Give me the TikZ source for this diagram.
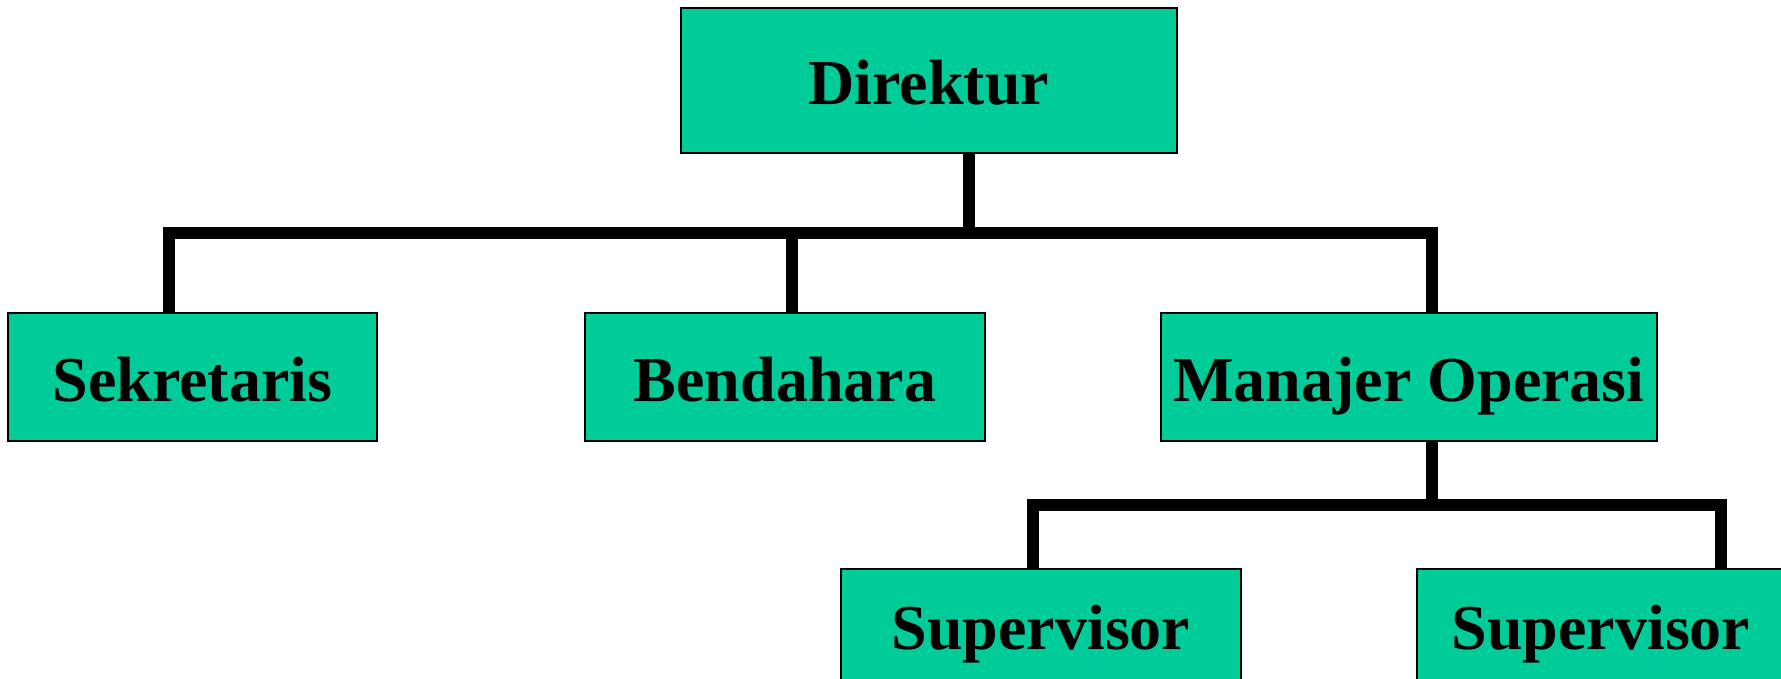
\documentclass[tikz,border=0pt]{standalone}
\usepackage{fontspec}
\setmainfont{Liberation Serif}
\definecolor{boxgreen}{RGB}{0,204,153}
\tikzset{
  orgbox/.style={draw=black, line width=1.6pt, fill=boxgreen, inner sep=0pt,
    font=\fontsize{64}{70}\selectfont\bfseries,
    text height=61pt, text depth=13pt},
  conn/.style={draw=black, line width=12pt, line join=miter, line cap=butt}
}
\begin{document}
\begin{tikzpicture}[x=1pt,y=-1pt]
  \useasboundingbox (0,0) rectangle (1781,679);
  % boxes
  \node[orgbox, minimum width=496pt, minimum height=145pt] (dir) at (929,80.5) {Direktur};
  \node[orgbox, minimum width=369pt, minimum height=128pt] (sek) at (192.5,377) {Sekretaris};
  \node[orgbox, minimum width=400pt, minimum height=128pt] (ben) at (785,377) {Bendahara};
  \node[orgbox, minimum width=496pt, minimum height=128pt] (man) at (1409,377) {Manajer Operasi};
  \node[orgbox, minimum width=400pt, minimum height=112pt] (sup1) at (1041,625) {Supervisor};
  \node[orgbox, minimum width=368pt, minimum height=112pt] (sup2) at (1601,625) {Supervisor};
  % attachment points of the connectors
  \coordinate (bar1) at (969,233);
  \coordinate (bar2) at (1432,505);
  \coordinate (dirout) at ([xshift=40pt]dir.south);
  \coordinate (sekin) at ([xshift=-23.5pt]sek.north);
  \coordinate (benin) at ([xshift=7pt]ben.north);
  \coordinate (manin) at ([xshift=23pt]man.north);
  \coordinate (manout) at ([xshift=23pt]man.south);
  \coordinate (sup1in) at ([xshift=-8pt]sup1.north);
  \coordinate (sup2in) at ([xshift=120pt]sup2.north);
  % connectors
  \draw[conn] (dirout) -- (bar1);
  \draw[conn] (sekin) |- (bar1) -| (manin);
  \draw[conn] (benin) -- (benin |- bar1);
  \draw[conn] (manout) -- (bar2);
  \draw[conn] (sup1in) |- (bar2) -| (sup2in);
\end{tikzpicture}
\end{document}
